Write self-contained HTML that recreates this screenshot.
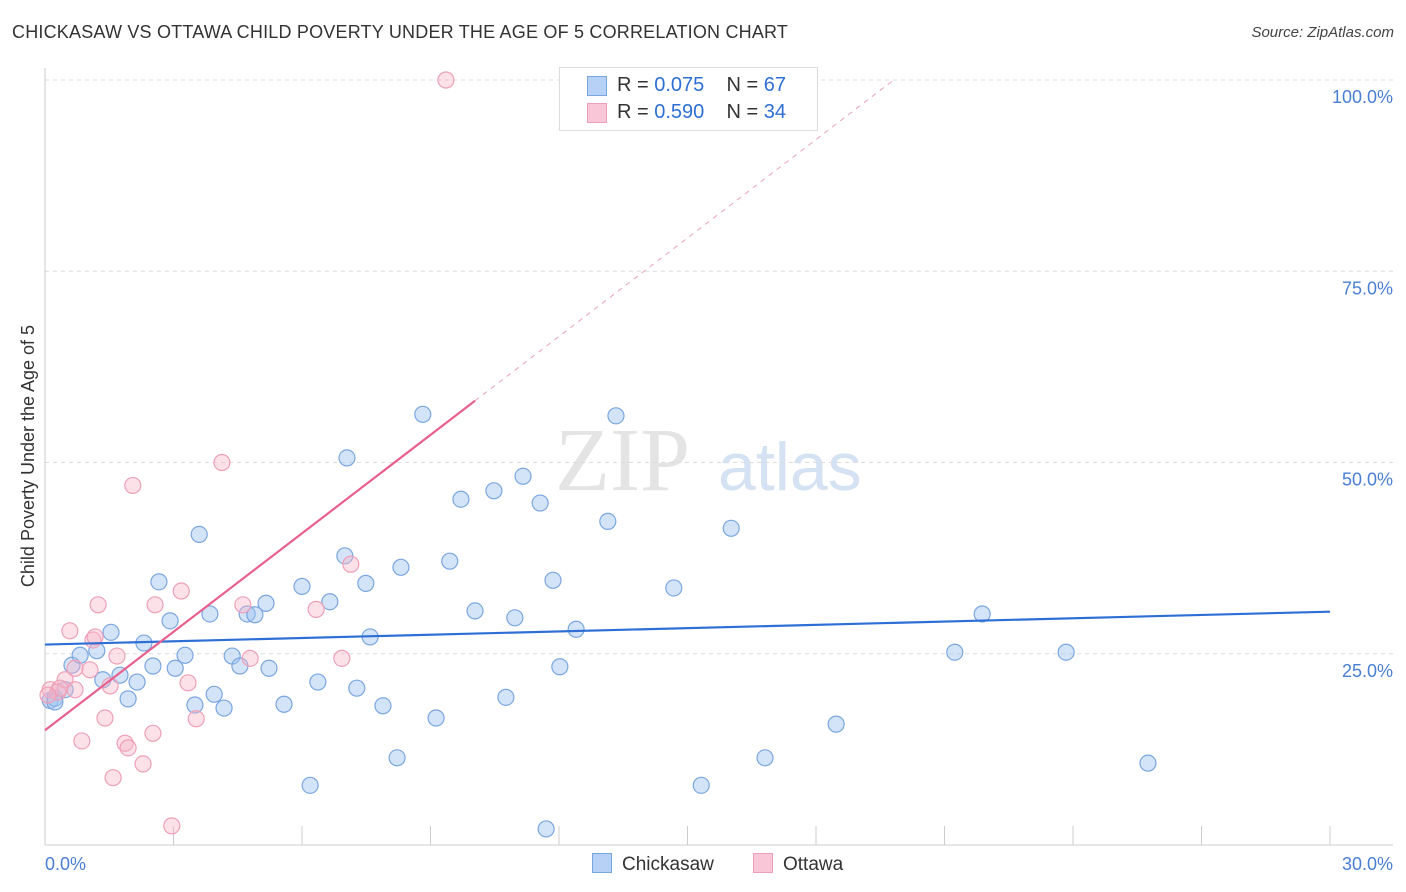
<!DOCTYPE html>
<html><head><meta charset="utf-8"><style>
body{margin:0;background:#fff;font-family:"Liberation Sans",sans-serif;}
#wrap{position:relative;width:1406px;height:892px;overflow:hidden}
.t{position:absolute;white-space:nowrap}
</style></head><body>
<div id="wrap">
<div class="t" style="left:12px;top:22px;font-size:18px;color:#333;letter-spacing:0.2px">CHICKASAW VS OTTAWA CHILD POVERTY UNDER THE AGE OF 5 CORRELATION CHART</div>
<div class="t" style="right:12px;top:24px;font-size:15px;color:#444;font-style:italic">Source: ZipAtlas.com</div>
<svg id="plot" width="1406" height="892" style="position:absolute;left:0;top:0"></svg>
</div>
<script>
const xTicks=[0,3,6,9,12,15,18,21,24,27,30];
const yTicks=[25,50,75,100];
const yTickLabels=["25.0%","50.0%","75.0%","100.0%"];
const xEndLabels=["0.0%","30.0%"];
const chickasawX=[0.12,0.23,0.47,0.63,0.82,1.21,1.35,1.54,1.75,1.94,2.15,2.31,2.52,2.66,2.92,3.04,3.27,3.50,3.60,3.85,3.95,4.18,4.37,4.55,4.72,4.90,5.16,5.23,5.58,6.00,6.37,6.65,7.00,7.05,7.28,7.49,7.59,7.89,8.22,8.31,8.82,9.13,9.45,9.71,10.04,10.48,10.76,10.97,11.16,11.56,11.70,11.86,12.02,12.40,13.14,13.33,14.68,15.32,16.02,16.81,18.47,21.24,21.88,23.84,25.75,6.19,0.23];
const chickasawY=[18.9,19.2,20.3,23.5,24.8,25.4,21.6,27.8,22.2,19.1,21.3,26.4,23.4,34.4,29.3,23.1,24.8,18.3,40.6,30.2,19.7,17.9,24.7,23.4,30.2,30.1,31.6,23.1,18.4,33.8,21.3,31.8,37.8,50.6,20.5,34.2,27.2,18.2,11.4,36.3,56.3,16.6,37.1,45.2,30.6,46.3,19.3,29.7,48.2,44.7,2.1,34.6,23.3,28.2,42.3,56.1,33.6,7.8,41.4,11.4,15.8,25.2,30.2,25.2,10.7,7.8,18.7];
const ottawaX=[9.36,0.12,0.30,0.47,0.58,0.70,0.86,1.05,1.12,1.24,1.40,1.52,1.59,1.68,1.87,1.94,2.05,2.29,2.52,2.57,2.96,3.18,3.34,3.53,4.13,4.62,4.79,6.33,6.93,7.14,0.35,0.70,1.17,0.07];
const ottawaY=[100,20.3,20.0,21.6,28.0,23.1,13.6,22.9,26.8,31.4,16.6,20.8,8.8,24.7,13.3,12.7,47.0,10.6,14.6,31.4,2.5,33.2,21.2,16.5,50.0,31.4,24.4,30.8,24.4,36.7,20.5,20.3,27.2,19.6];
const blueTrend=[26.2,30.5];
const pinkTrend=[15.0,4.29];

const X0=45,X1=1330,Y0=845,Y100=80;
const sx=v=>X0+(v/30)*(X1-X0);
const sy=v=>Y0-(v/100)*(Y0-Y100);
const svg=document.getElementById('plot');
const NS='http://www.w3.org/2000/svg';
function mk(tag,attrs,parent){const e=document.createElementNS(NS,tag);for(const k in attrs)e.setAttribute(k,attrs[k]);(parent||svg).appendChild(e);return e;}

// watermark
let wm=mk('text',{x:555,y:490,'font-size':90,fill:'#e4e4e4','font-family':'Liberation Serif, serif'});


wm.textContent='ZIP';
let wm2=mk('text',{x:718,y:490,'font-size':68,fill:'#d5e2f3','font-family':'Liberation Sans, sans-serif'});


wm2.textContent='atlas';

yTicks.forEach((t,i)=>{
 const g=mk('line',{x1:X0,x2:1393,y1:sy(t),y2:sy(t),stroke:'#dcdcdc','stroke-dasharray':'4,4'});
 
 
 const l=mk('text',{x:1393,y:sy(t)+23,'text-anchor':'end','font-size':18,fill:'#4a7fd4'});
 
 
 l.textContent=yTickLabels[i];
});
let ax=mk('line',{x1:X0,x2:X0,y1:68,y2:Y0,stroke:'#ccc'});


let bx=mk('line',{x1:X0,x2:1393,y1:Y0,y2:Y0,stroke:'#ccc'});


xTicks.forEach(t=>{
 const k=mk('line',{x1:sx(t),x2:sx(t),y1:826,y2:Y0,stroke:'#ccc'});
 
 
});
[[0,'start',45],[30,'end',1393]].forEach((d,i)=>{
 const l=mk('text',{x:d[2],y:870,'text-anchor':d[1],'font-size':18,fill:'#4a7fd4'});
 
 
 l.textContent=xEndLabels[i];
});
let yt=mk('text',{x:34,y:456,'text-anchor':'middle','font-size':18,fill:'#333',transform:'rotate(-90 34 456)'});


yt.textContent='Child Poverty Under the Age of 5';

chickasawX.forEach((x,i)=>{
 const c=mk('circle',{cx:sx(x),cy:sy(chickasawY[i]),r:8,fill:'rgba(160,195,240,0.45)',stroke:'#7aa6e0','stroke-width':1.2});
 
 
});
ottawaX.forEach((x,i)=>{
 const c=mk('circle',{cx:sx(x),cy:sy(ottawaY[i]),r:8,fill:'rgba(248,180,200,0.4)',stroke:'#eea0b8','stroke-width':1.2});
 
 
});
let bt=mk('line',{x1:sx(0),y1:sy(blueTrend[0]),x2:sx(30),y2:sy(blueTrend[1]),stroke:'#2e6fd6','stroke-width':2.2});


const pEnd=10.04,pDash=(100-pinkTrend[0])/pinkTrend[1];
let pt=mk('line',{x1:sx(0),y1:sy(pinkTrend[0]),x2:sx(pEnd),y2:sy(pinkTrend[0]+pinkTrend[1]*pEnd),stroke:'#e8608e','stroke-width':2.2});


let pd=mk('line',{x1:sx(pEnd),y1:sy(pinkTrend[0]+pinkTrend[1]*pEnd),x2:sx(pDash),y2:sy(100),stroke:'#eea0b8','stroke-width':1,'stroke-dasharray':'5,5'});


</script>
<div class="t" style="left:559px;top:67px;width:257px;height:62px;border:1px solid #ddd;background:#fff;font-size:20px;color:#333">
 <div style="position:absolute;left:27px;top:8px;width:18px;height:18px;background:#b7d0f5;border:1px solid #7aa6e0"></div>
 <div style="position:absolute;left:57px;top:6px">R = <span style="color:#2e6fd6">0.075</span>&nbsp;&nbsp;&nbsp; N = <span style="color:#2e6fd6">67</span></div>
 <div style="position:absolute;left:27px;top:35px;width:18px;height:18px;background:#f8c6d6;border:1px solid #eea0b8"></div>
 <div style="position:absolute;left:57px;top:33px">R = <span style="color:#2e6fd6">0.590</span>&nbsp;&nbsp;&nbsp; N = <span style="color:#2e6fd6">34</span></div>
</div>
<div class="t" style="left:592px;top:853px;font-size:19px;color:#333"><span style="display:inline-block;width:18px;height:18px;background:#b7d0f5;border:1px solid #7aa6e0;vertical-align:-3px;margin-right:10px"></span>Chickasaw</div>
<div class="t" style="left:753px;top:853px;font-size:19px;color:#333"><span style="display:inline-block;width:18px;height:18px;background:#f8c6d6;border:1px solid #eea0b8;vertical-align:-3px;margin-right:10px"></span>Ottawa</div>
</body></html>
